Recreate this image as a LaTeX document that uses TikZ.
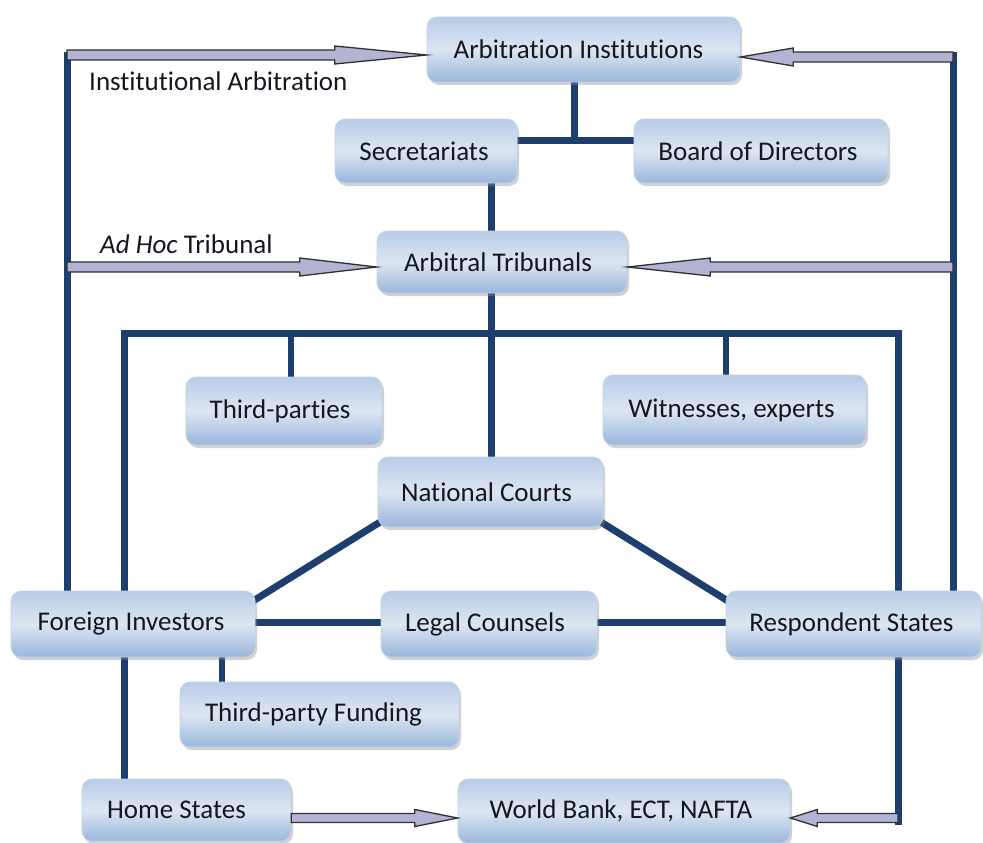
\documentclass[tikz,border=0pt]{standalone}
\usepackage{fontspec}
\setmainfont{Carlito}[Ligatures=NoCommon]
\usetikzlibrary{calc,shadows,backgrounds}
\definecolor{linec}{HTML}{1C3F6E}
\definecolor{boxtop}{HTML}{B8CCE7}
\definecolor{boxmid}{HTML}{DCE6F2}
\definecolor{boxbot}{HTML}{9AB6DC}
\definecolor{arrfill}{HTML}{B3B3D3}
\definecolor{arrline}{HTML}{303030}
\definecolor{txt}{HTML}{161620}
\newcommand{\fatarrow}[5]{%
  \filldraw[fatarr] ($(#1)+(0,#4)$) -- ($(#2)+(#3,#4)$) -- ($(#2)+(#3,#5)$) -- (#2)
    -- ($(#2)+(#3,-#5)$) -- ($(#2)+(#3,-#4)$) -- ($(#1)+(0,-#4)$) -- cycle;}
\begin{document}
\begin{tikzpicture}[x=1pt,y=-1pt,
  box/.style={rounded corners=10pt, top color=boxtop, bottom color=boxbot, middle color=boxmid,
    draw=boxbot!60!white, line width=0.6pt, text=txt, font=\fontsize{27}{32}\selectfont, inner sep=0pt,
    drop shadow={shadow xshift=2pt, shadow yshift=-3pt, fill=black!45, opacity=0.4}},
  conn/.style={draw=linec, line width=7pt},
  stub/.style={draw=linec, line width=6pt},
  fatarr/.style={fill=arrfill, draw=arrline, line width=1.3pt, line join=miter, miter limit=30},
  lbl/.style={text=txt, font=\fontsize{27}{32}\selectfont, inner sep=0pt, anchor=base west}]
\useasboundingbox (0,0) rectangle (983,843);
% helper coordinates
\coordinate (ol) at (67,52);
\coordinate (or) at (953,52);
\coordinate (j1) at (574,140);
\coordinate (v1) at (491,0);
\coordinate (bl) at (124,333);
\coordinate (br) at (898,333);
\coordinate (tps) at (291,333);
\coordinate (wis) at (726,333);
\coordinate (fus) at (222,0);
\coordinate (rsb) at (898,825);
% boxes
\begin{scope}[every node/.style={box}]
\node[minimum width=313pt, minimum height=65pt] (ai) at (583.5,49.5) {Arbitration Institutions\hspace*{10pt}};
\node[minimum width=182pt, minimum height=64pt] (sec) at (426,151) {Secretariats\hspace*{4pt}};
\node[minimum width=254pt, minimum height=64pt] (bod) at (761,151) {Board of Directors\hspace*{6pt}};
\node[minimum width=250pt, minimum height=62pt] (at) at (502,262) {Arbitral Tribunals\hspace*{8pt}};
\node[minimum width=196pt, minimum height=68pt] (tp) at (284,411) {Third-parties\hspace*{8pt}};
\node[minimum width=263pt, minimum height=70pt] (wit) at (734.5,410) {Witnesses, experts\hspace*{6pt}};
\node[minimum width=225pt, minimum height=70pt] (nc) at (490.5,492) {National Courts\hspace*{8pt}};
\node[minimum width=244pt, minimum height=66pt] (fi) at (133,624) {Foreign Investors\hspace*{4pt}};
\node[minimum width=216pt, minimum height=66pt] (lc) at (489,624) {Legal Counsels\hspace*{8pt}};
\node[minimum width=255pt, minimum height=66pt] (rs) at (853.5,624) {Respondent States\hspace*{4pt}};
\node[minimum width=279pt, minimum height=65pt] (tpf) at (319.5,714.5) {Third-party Funding\hspace*{12pt}};
\node[minimum width=209pt, minimum height=62pt] (hs) at (186.5,810) {Home States\hspace*{20pt}};
\node[minimum width=332pt, minimum height=64pt] (wb) at (624,811) {World Bank, ECT, NAFTA\hspace*{6pt}};
\end{scope}
% labels
\node[lbl] (linst) at (89,90) {Institutional Arbitration};
\node[lbl] (ladhoc) at (100,253) {\textit{Ad Hoc} Tribunal};
% connectors behind boxes
\begin{scope}[on background layer]
\draw[conn] (ol) -- (ol |- fi.north);
\draw[conn] (or) -- (or |- rs.north);
\draw[conn] (j1 |- ai.south) -- (j1);
\draw[conn] ($(sec.east)+(0,-11)$) -- ($(bod.west)+(0,-11)$);
\draw[conn] (v1 |- sec.south) -- (v1 |- at.north);
\draw[conn] (v1 |- at.south) -- (v1 |- nc.north);
\draw[conn] (bl |- fi.north) -- (bl) -- (br) -- (br |- rs.north);
\draw[stub] (tps) -- (tps |- tp.north);
\draw[stub] (wis) -- (wis |- wit.north);
\draw[conn] ($(fi.north east)+(-5,12)$) -- ($(nc.south west)+(10,-10)$);
\draw[conn] ($(nc.south east)+(-10,-10)$) -- ($(rs.north west)+(5,12)$);
\draw[conn] ($(fi.east)+(0,-2)$) -- ($(lc.west)+(0,-2)$);
\draw[conn] ($(lc.east)+(0,-2)$) -- ($(rs.west)+(0,-2)$);
\draw[conn] (bl |- fi.south) -- (bl |- hs.north);
\draw[stub] (fus |- fi.south) -- (fus |- tpf.north);
\draw[conn] (br |- rs.south) -- (rsb);
\end{scope}
% fat arrows
\coordinate (a1s) at (67,55);   \coordinate (a1e) at (a1s -| ai.west);
\coordinate (a2s) at (953,57);  \coordinate (a2e) at (a2s -| ai.east);
\coordinate (a3s) at (67,267);  \coordinate (a3e) at (a3s -| at.west);
\coordinate (a4s) at (953,267); \coordinate (a4e) at (a4s -| at.east);
\coordinate (a5s) at (hs.east |- 0,818); \coordinate (a5e) at (a5s -| wb.west);
\coordinate (a6s) at (898,818); \coordinate (a6e) at (a6s -| wb.east);
\fatarrow{a1s}{a1e}{-92}{5}{9}
\fatarrow{a2s}{a2e}{53}{5}{9}
\fatarrow{a3s}{a3e}{-77}{5}{9}
\fatarrow{a4s}{a4e}{83}{5}{9}
\fatarrow{a5s}{a5e}{-43}{4.5}{8.5}
\fatarrow{a6s}{a6e}{27}{4.5}{8.5}
\end{tikzpicture}
\end{document}
